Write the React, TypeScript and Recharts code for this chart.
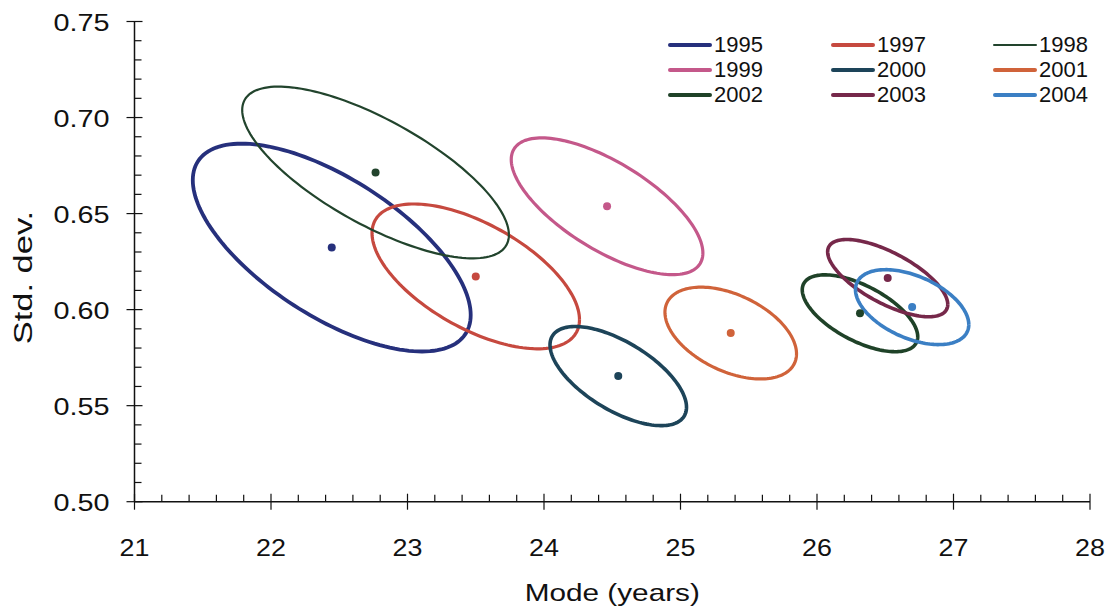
import { ScatterChart, Scatter, XAxis, YAxis, Legend, Cell, Label } from 'recharts';

const FONT = '"Liberation Sans", Arial, Helvetica, sans-serif';
const INK = '#111';

const years = ['1995', '1997', '1998', '1999', '2000', '2001', '2002', '2003', '2004'];
const colors = ['#26307c', '#c6493f', '#22442d', '#c4588a', '#1d4459', '#d0633a', '#1f4228', '#76284a', '#3b7fc4'];
const strokeWidths = [3.8, 3.2, 2.2, 3.2, 3.6, 3.2, 3.6, 3.6, 3.6];

// centre of each year's confidence ellipse
const modeCentre = [22.445, 23.5, 22.766, 24.462, 24.544, 25.368, 26.315, 26.518, 26.697];
const sdCentre = [0.6323, 0.6173, 0.6714, 0.6538, 0.5654, 0.5878, 0.5981, 0.6164, 0.6013];
// half extent along each axis, and the std. dev. offset of the right-most point (tilt)
const modeHalf = [1.018, 0.76, 0.977, 0.702, 0.5, 0.482, 0.423, 0.44, 0.415];
const sdHalf = [0.0541, 0.0377, 0.0447, 0.0356, 0.0258, 0.0239, 0.02, 0.0201, 0.0195];
const sdAtRight = [-0.0351, -0.0225, -0.0325, -0.0243, -0.0162, -0.0108, -0.0122, -0.0137, -0.0091];

const xMajor = [21, 22, 23, 24, 25, 26, 27, 28];
const xTicks = [
  21, 21.2, 21.4, 21.6, 21.8, 22, 22.2, 22.4, 22.6, 22.8, 23, 23.2, 23.4, 23.6, 23.8, 24, 24.2, 24.4,
  24.6, 24.8, 25, 25.2, 25.4, 25.6, 25.8, 26, 26.2, 26.4, 26.6, 26.8, 27, 27.2, 27.4, 27.6, 27.8, 28,
];
const yMajor = [0.5, 0.55, 0.6, 0.65, 0.7, 0.75];
const yTicks = [
  0.5, 0.51, 0.52, 0.53, 0.54, 0.55, 0.56, 0.57, 0.58, 0.59, 0.6, 0.61, 0.62, 0.63, 0.64, 0.65, 0.66,
  0.67, 0.68, 0.69, 0.7, 0.71, 0.72, 0.73, 0.74, 0.75,
];

const STEPS = 160;

// closed outline of ellipse i, traced as P(t) = C + U cos t + V sin t
function outline(i: number) {
  const k = Math.sqrt(sdHalf[i] ** 2 - sdAtRight[i] ** 2);
  return Array.from({ length: STEPS + 1 }, (_, s) => {
    const t = (2 * Math.PI * s) / STEPS;
    return {
      x: modeCentre[i] + modeHalf[i] * Math.cos(t),
      y: sdCentre[i] + sdAtRight[i] * Math.cos(t) + k * Math.sin(t),
    };
  });
}

const centres = years.map((year, i) => ({ year, x: modeCentre[i], y: sdCentre[i] }));

function XTick(props: any) {
  const { x, y, payload } = props;
  if (!xMajor.includes(payload.value)) {
    return <line x1={x} x2={x} y1={y} y2={y - 7} stroke={INK} strokeWidth={1.2} />;
  }
  return (
    <g>
      <line x1={x} x2={x} y1={y - 8} y2={y + 8} stroke={INK} strokeWidth={1.2} />
      <text
        transform={`translate(${x},${y + 54}) scale(1.12,1)`}
        textAnchor="middle"
        fontFamily={FONT}
        fontSize={24}
        fill={INK}
      >
        {payload.value}
      </text>
    </g>
  );
}

function YTick(props: any) {
  const { x, y, payload } = props;
  if (!yMajor.includes(payload.value)) {
    return <line x1={x} x2={x + 7} y1={y} y2={y} stroke={INK} strokeWidth={1.2} />;
  }
  return (
    <g>
      <line x1={x - 8} x2={x + 8} y1={y} y2={y} stroke={INK} strokeWidth={1.2} />
      <text
        transform={`translate(${x - 25},${y + 9}) scale(1.2,1)`}
        textAnchor="end"
        fontFamily={FONT}
        fontSize={24}
        fill={INK}
      >
        {payload.value.toFixed(2)}
      </text>
    </g>
  );
}

function LegendGrid() {
  return (
    <div
      style={{
        display: 'grid',
        gridTemplateColumns: '163px 162px 130px',
        fontFamily: FONT,
        fontSize: 22,
        color: INK,
      }}
    >
      {years.map((year, i) => (
        <div key={year} style={{ display: 'flex', alignItems: 'center', height: 25 }}>
          <span
            style={{
              display: 'inline-block',
              width: 44,
              height: i === 2 ? 2.5 : 4,
              background: colors[i],
              borderRadius: 2,
              marginRight: 2,
            }}
          />
          <span>{year}</span>
        </div>
      ))}
    </div>
  );
}

export default function App() {
  return (
    <div style={{ position: 'absolute', left: 0, top: 0, background: '#fff' }}>
      <ScatterChart width={1115} height={612} margin={{ top: 21.5, right: 25, bottom: 50.3, left: 54.5 }}>
        <XAxis
          type="number"
          dataKey="x"
          domain={[21, 28]}
          ticks={xTicks}
          interval={0}
          allowDataOverflow
          height={60}
          axisLine={{ stroke: INK, strokeWidth: 1.5 }}
          tickLine={false}
          tickSize={0}
          tickMargin={0}
          tick={XTick}
        >
          <Label
            content={(p: any) => {
              const vb = p.viewBox;
              return (
                <text
                  transform={`translate(${vb.x + vb.width / 2},${vb.y + 99}) scale(1.24,1)`}
                  textAnchor="middle"
                  fontFamily={FONT}
                  fontSize={24}
                  fill={INK}
                >
                  Mode (years)
                </text>
              );
            }}
          />
        </XAxis>
        <YAxis
          type="number"
          dataKey="y"
          domain={[0.5, 0.75]}
          ticks={yTicks}
          interval={0}
          allowDataOverflow
          width={80}
          axisLine={{ stroke: INK, strokeWidth: 1.5 }}
          tickLine={false}
          tickSize={0}
          tickMargin={0}
          tick={YTick}
        >
          <Label
            content={(p: any) => {
              const vb = p.viewBox;
              return (
                <text
                  transform={`translate(${vb.x - 23},${vb.y + vb.height / 2 + 16}) rotate(-90) scale(1.38,1)`}
                  textAnchor="middle"
                  fontFamily={FONT}
                  fontSize={25}
                  fill={INK}
                >
                  Std. dev.
                </text>
              );
            }}
          />
        </YAxis>
        <Legend
          layout="horizontal"
          verticalAlign="middle"
          align="center"
          wrapperStyle={{ left: 668, top: 32.5, width: 450 }}
          content={LegendGrid}
        />
        {years.map((year, i) => (
          <Scatter
            key={year}
            name={year}
            data={outline(i)}
            fill={colors[i]}
            line={{ stroke: colors[i], strokeWidth: strokeWidths[i] }}
            shape={() => <g />}
            isAnimationActive={false}
          />
        ))}
        <Scatter
          name="centre"
          data={centres}
          isAnimationActive={false}
          shape={(p: any) => <circle cx={p.cx} cy={p.cy} r={4} fill={p.fill} />}
        >
          {centres.map((c, i) => (
            <Cell key={c.year} fill={colors[i]} />
          ))}
        </Scatter>
      </ScatterChart>
    </div>
  );
}
